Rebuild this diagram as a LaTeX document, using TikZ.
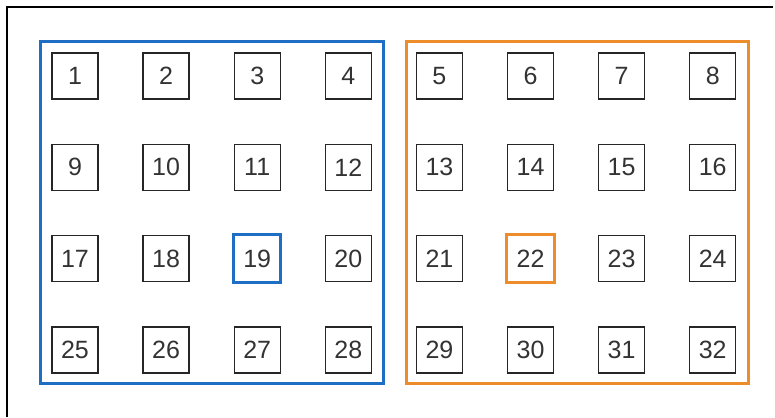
\documentclass[tikz,border=0pt]{standalone}
\usepackage{fontspec}
\setmainfont{Liberation Sans}
\definecolor{gblue}{RGB}{30,110,195}
\definecolor{gorange}{RGB}{236,140,42}
\begin{document}
\begin{tikzpicture}[x=1pt,y=-1pt,
  cell/.style={draw=black!85,line width=1.4pt,minimum width=46pt,minimum height=46pt,inner sep=0pt,font=\fontsize{25}{27}\selectfont,text=black!80},
  group/.style={line width=3pt}]
\useasboundingbox (0,0) rectangle (775,417);
\fill[white] (0,0) rectangle (775,417);
\coordinate (tl) at (7,7);
\coordinate (tr) at (773,7);
\coordinate (bl) at (7,417);
\draw[line width=1.5pt,black] (bl) -- (tl) -- (tr);
\draw[group,draw=gblue] (40,42) rectangle (383,383);
\draw[group,draw=gorange] (406,42) rectangle (748,383);
\foreach \r in {0,1,2,3}{
  \foreach \c in {0,...,7}{
    \pgfmathtruncatemacro{\n}{\r*8+\c+1}
    \node[cell] (n\n) at ({75+91.1*\c},{76+91.3*\r}) {\n};
  }
}
\draw[gblue,line width=3pt] (n19.north west) rectangle (n19.south east);
\draw[gorange,line width=3pt] (n22.north west) rectangle (n22.south east);
\end{tikzpicture}
\end{document}
